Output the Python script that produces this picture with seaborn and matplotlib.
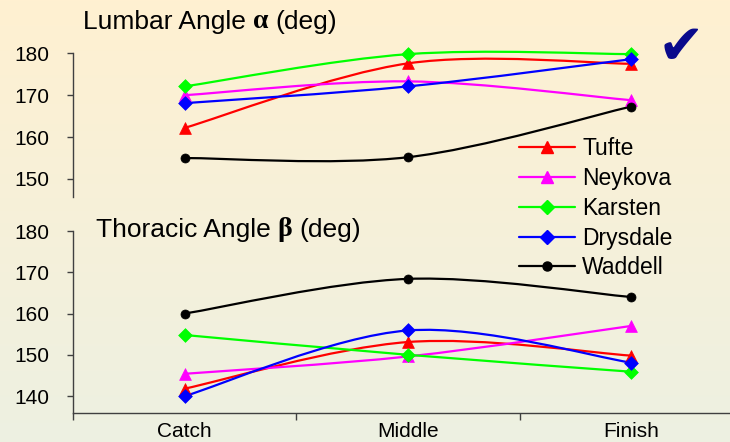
import numpy as np
import matplotlib
matplotlib.use("Agg")
import matplotlib.pyplot as plt
from matplotlib.path import Path
from matplotlib.patches import PathPatch
from matplotlib.lines import Line2D
import seaborn as sns

# Rowing posture angles at three phases of the stroke
phases = ["Catch", "Middle", "Finish"]
rowers = ["Tufte", "Neykova", "Karsten", "Drysdale", "Waddell"]

lumbar_tufte = [162.2, 177.6, 177.5]
lumbar_neykova = [170.0, 173.3, 168.8]
lumbar_karsten = [172.1, 179.8, 179.8]
lumbar_drysdale = [168.1, 172.1, 178.6]
lumbar_waddell = [155.0, 155.2, 167.3]

thoracic_tufte = [141.8, 153.1, 149.8]
thoracic_neykova = [145.4, 149.6, 157.0]
thoracic_karsten = [154.8, 150.0, 145.9]
thoracic_drysdale = [140.0, 155.9, 148.1]
thoracic_waddell = [160.0, 168.4, 164.0]

lumbar = [lumbar_tufte, lumbar_neykova, lumbar_karsten, lumbar_drysdale, lumbar_waddell]
thoracic = [thoracic_tufte, thoracic_neykova, thoracic_karsten, thoracic_drysdale, thoracic_waddell]

colors = ["#FF0000", "#FF00FF", "#00FF00", "#0000FF", "#000000"]
markers = ["^", "^", "D", "D", "o"]
msizes = [8.5, 8.5, 7.0, 7.0, 6.5]

W, H = 730, 442
sns.set_theme(style="ticks")
plt.rcParams["font.family"] = ["Liberation Sans", "DejaVu Sans"]
plt.rcParams["text.color"] = "black"
plt.rcParams["xtick.color"] = "black"
plt.rcParams["ytick.color"] = "black"

fig = plt.figure(figsize=(W / 100, H / 100), dpi=100)

# soft cream-to-green backdrop
bg = fig.add_axes([0, 0, 1, 1], zorder=-10)
top = np.array([1.0, 0.945, 0.82])
bot = np.array([0.93, 0.945, 0.885])
t = np.linspace(0, 1, 256)[:, None]
grad = (top * (1 - t) + bot * t)[:, None, :]
bg.imshow(grad, aspect="auto", extent=[0, 1, 0, 1])
bg.set_axis_off()


def px_axes(left, top_px, right, bottom_px):
    return [left / W, 1 - bottom_px / H, (right - left) / W, (bottom_px - top_px) / H]


ax1 = fig.add_axes(px_axes(73, 53.3, 743, 197))
ax2 = fig.add_axes(px_axes(73, 231, 743, 413))

spine_col = "#404040"
x = np.arange(len(phases))


def smooth_path(xs, ys):
    pts = np.column_stack([xs, ys]).astype(float)
    n = len(pts)
    verts = [pts[0]]
    codes = [Path.MOVETO]
    for i in range(n - 1):
        p_prev = pts[max(i - 1, 0)]
        p0 = pts[i]
        p1 = pts[i + 1]
        p_next = pts[min(i + 2, n - 1)]
        c1 = p0 + (p1 - p_prev) / 6.0
        c2 = p1 - (p_next - p0) / 6.0
        verts += [c1, c2, p1]
        codes += [Path.CURVE4] * 3
    return Path(verts, codes)


def draw_panel(ax, series, ylim, yticks):
    ax.set_facecolor("none")
    for vals, c, m, ms in zip(series, colors, markers, msizes):
        patch = PathPatch(smooth_path(x, vals), facecolor="none", edgecolor=c,
                          lw=1.6, clip_on=False, zorder=2)
        ax.add_patch(patch)
        sns.scatterplot(x=x, y=vals, ax=ax, marker=m, s=ms ** 2, color=c,
                        edgecolor=c, linewidth=0.5, clip_on=False, zorder=3,
                        legend=False)
    ax.set_xlim(-0.5, 2.5)
    ax.set_ylim(*ylim)
    ax.set_yticks(yticks)
    ax.set_yticklabels([str(v) for v in yticks])
    ax.tick_params(axis="y", direction="out", length=4.3, width=1.0,
                   color=spine_col, labelsize=15, pad=13, labelcolor="black")
    for s in ["top", "right"]:
        ax.spines[s].set_visible(False)
    ax.spines["left"].set_color(spine_col)
    ax.spines["left"].set_linewidth(1.0)
    ax.set_xlabel("")
    ax.set_ylabel("")


draw_panel(ax1, lumbar, (145.7, 180), [150, 160, 170, 180])
draw_panel(ax2, thoracic, (135.9, 180), [140, 150, 160, 170, 180])

ax1.spines["bottom"].set_visible(False)
ax1.set_xticks([])

ax2.spines["bottom"].set_color(spine_col)
ax2.spines["bottom"].set_linewidth(1.0)
ax2.set_xticks([-0.5, 0.5, 1.5, 2.5])
ax2.set_xticklabels([])
ax2.set_xticks(x, minor=True)
ax2.set_xticklabels(phases, minor=True)
ax2.tick_params(axis="x", which="major", direction="out", length=5, width=1.0,
                color=spine_col)
ax2.tick_params(axis="x", which="minor", length=0, labelsize=15, pad=6.5,
                labelcolor="black")


def title(x_px, base_px, name, greek):
    fs = 19
    t1 = fig.text(x_px / W, 1 - base_px / H, name, fontsize=fs, color="black",
                  ha="left", va="baseline")
    t2 = ax1.annotate(greek, xy=(1, 0), xycoords=t1, xytext=(5, 0),
                      textcoords="offset points", ha="left", va="bottom",
                      fontsize=fs + 1, fontweight="bold",
                      family=["Liberation Serif", "DejaVu Serif"], color="black",
                      annotation_clip=False)
    ax1.annotate("(deg)", xy=(1, 0), xycoords=t2, xytext=(5, 0),
                 textcoords="offset points", ha="left", va="bottom",
                 fontsize=fs, color="black", annotation_clip=False)


title(83, 29.5, "Lumbar Angle", "α")
title(96, 236.5, "Thoracic Angle", "β")

# tick of approval
fig.text(681 / W, 1 - 49 / H, "\u2714", fontsize=40, color="#0A0A8C",
         ha="center", va="center", family=["DejaVu Sans"])

handles = [Line2D([0], [0], color=c, lw=1.6, marker=m, markersize=ms,
                  markeredgecolor=c) for c, m, ms in zip(colors, markers, msizes)]
fig.legend(handles, rowers, loc="upper left",
           bbox_to_anchor=(519 / W, 1 - 137 / H), frameon=False, borderpad=0,
           borderaxespad=0, handlelength=2.45, handletextpad=0.3,
           labelspacing=0.3, fontsize=16.5, numpoints=1, labelcolor="black")

fig.savefig("out.png", dpi=100)
